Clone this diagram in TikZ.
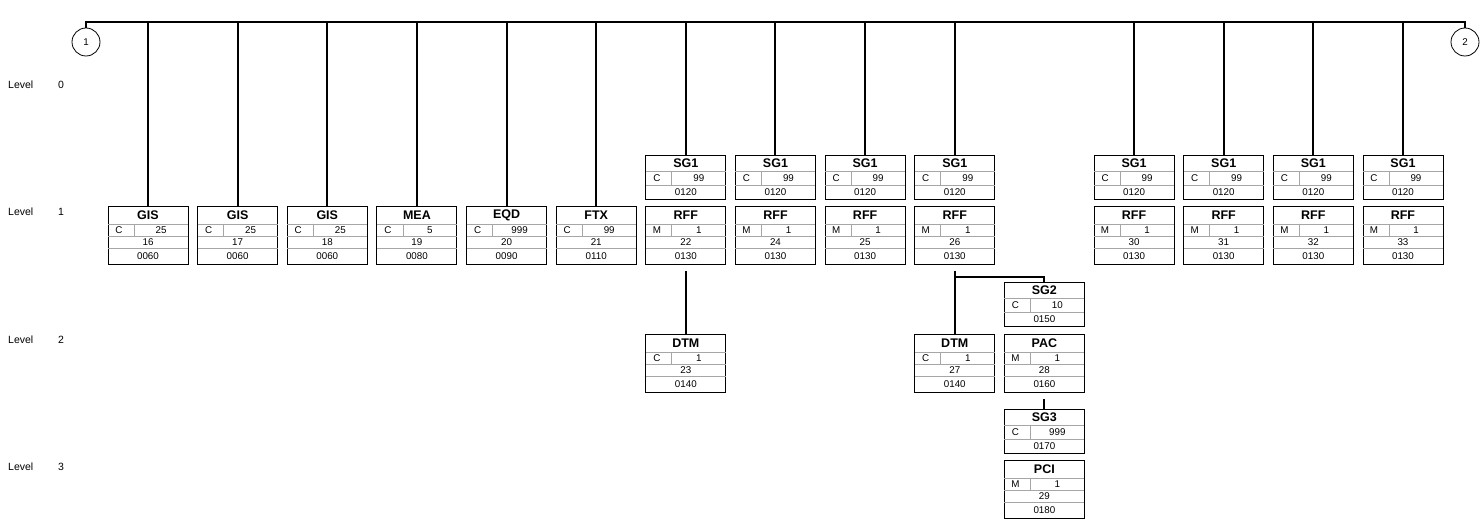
\documentclass[tikz,border=0pt]{standalone}
\usepackage{fontspec}
\setmainfont{Liberation Sans}
\usetikzlibrary{positioning}

% segment box: name, placement, tag, status, repeat, position, number
\newcommand{\segbox}[7]{%
  \node[segframe, #2] (#1) {};
  \draw[rowline] ([yshift=-18pt]#1.north west) -- ([yshift=-18pt]#1.north east);
  \draw[rowline] ([yshift=-30pt]#1.north west) -- ([yshift=-30pt]#1.north east);
  \draw[rowline] ([yshift=-42pt]#1.north west) -- ([yshift=-42pt]#1.north east);
  \draw[rowline] ([xshift=26pt,yshift=-18pt]#1.north west) -- ([xshift=26pt,yshift=-30pt]#1.north west);
  \node[tagtext] (#1-tag) at ([yshift=-9pt]#1.north) {#3};
  \node[celltext] (#1-st) at ([xshift=11pt,yshift=-24pt]#1.north west) {#4};
  \node[celltext] (#1-rep) at ([xshift=53pt,yshift=-24pt]#1.north west) {#5};
  \node[celltext] (#1-pos) at ([yshift=-36pt]#1.north) {#6};
  \node[celltext] (#1-num) at ([yshift=-50pt]#1.north) {#7};
}

% group box: name, placement, tag, status, repeat, number
\newcommand{\grpbox}[6]{%
  \node[grpframe, #2] (#1) {};
  \draw[rowline] ([yshift=-16pt]#1.north west) -- ([yshift=-16pt]#1.north east);
  \draw[rowline] ([yshift=-30pt]#1.north west) -- ([yshift=-30pt]#1.north east);
  \draw[rowline] ([xshift=26pt,yshift=-16pt]#1.north west) -- ([xshift=26pt,yshift=-30pt]#1.north west);
  \node[tagtext] (#1-tag) at ([yshift=-8.5pt]#1.north) {#3};
  \node[celltext] (#1-st) at ([xshift=11pt,yshift=-23pt]#1.north west) {#4};
  \node[celltext] (#1-rep) at ([xshift=53pt,yshift=-23pt]#1.north west) {#5};
  \node[celltext] (#1-num) at ([yshift=-37pt]#1.north) {#6};
}

\begin{document}
\begin{tikzpicture}[
    x=1pt, y=-1pt,
    segframe/.style={draw, line width=0.9pt, fill=white, inner sep=0pt, outer sep=0pt,
      minimum width=80pt, minimum height=58pt},
    grpframe/.style={draw, line width=0.9pt, fill=white, inner sep=0pt, outer sep=0pt,
      minimum width=80pt, minimum height=44pt},
    rowline/.style={draw=black!35, line width=0.7pt},
    link/.style={line width=2pt},
    tagtext/.style={font=\fontsize{12.5}{14}\selectfont\bfseries, inner sep=0pt},
    celltext/.style={font=\fontsize{9.8}{11}\selectfont, inner sep=0pt},
    lvltext/.style={font=\fontsize{10.5}{12}\selectfont, inner sep=0pt},
    endcircle/.style={draw, circle, line width=0.8pt, minimum size=28pt, inner sep=0pt,
      font=\fontsize{9.8}{11}\selectfont}
  ]
    \useasboundingbox (0,0) rectangle (1483,529);

    % level labels
    \foreach \l/\y in {0/85, 1/212, 2/340, 3/467} {
      \node[lvltext, anchor=west] (lvl\l) at (8,\y) {Level};
      \node[lvltext] (lvlnum\l) at (61,\y) {\l};
    }

    % bus and end circles
    \node[endcircle] (c1) at (86,42) {1};
    \node[endcircle] (c2) at (1465,42) {2};
    \coordinate (busL) at (86,22);
    \coordinate (busR) at (1465,22);
    \draw[link] (c1.north) -- (busL) -- (busR) -- (c2.north);

    % level 1
    \segbox{g16}{anchor=north, at={(148,206)}}{GIS}{C}{25}{16}{0060}
    \segbox{g17}{right=9.64pt of g16}{GIS}{C}{25}{17}{0060}
    \segbox{g18}{right=9.64pt of g17}{GIS}{C}{25}{18}{0060}
    \segbox{m19}{right=9.64pt of g18}{MEA}{C}{5}{19}{0080}
    \segbox{e20}{right=9.64pt of m19}{EQD}{C}{999}{20}{0090}
    \segbox{f21}{right=9.64pt of e20}{FTX}{C}{99}{21}{0110}
    \segbox{r22}{right=9.64pt of f21}{RFF}{M}{1}{22}{0130}
    \segbox{r24}{right=9.64pt of r22}{RFF}{M}{1}{24}{0130}
    \segbox{r25}{right=9.64pt of r24}{RFF}{M}{1}{25}{0130}
    \segbox{r26}{right=9.64pt of r25}{RFF}{M}{1}{26}{0130}
    \segbox{r30}{right=99.28pt of r26}{RFF}{M}{1}{30}{0130}
    \segbox{r31}{right=9.64pt of r30}{RFF}{M}{1}{31}{0130}
    \segbox{r32}{right=9.64pt of r31}{RFF}{M}{1}{32}{0130}
    \segbox{r33}{right=9.64pt of r32}{RFF}{M}{1}{33}{0130}

    % segment groups 1
    \grpbox{sgA}{above=7pt of r22}{SG1}{C}{99}{0120}
    \grpbox{sgB}{above=7pt of r24}{SG1}{C}{99}{0120}
    \grpbox{sgC}{above=7pt of r25}{SG1}{C}{99}{0120}
    \grpbox{sgD}{above=7pt of r26}{SG1}{C}{99}{0120}
    \grpbox{sgE}{above=7pt of r30}{SG1}{C}{99}{0120}
    \grpbox{sgF}{above=7pt of r31}{SG1}{C}{99}{0120}
    \grpbox{sgG}{above=7pt of r32}{SG1}{C}{99}{0120}
    \grpbox{sgH}{above=7pt of r33}{SG1}{C}{99}{0120}

    % level 2 and 3
    \segbox{d23}{below=70pt of r22}{DTM}{C}{1}{23}{0140}
    \segbox{d27}{below=70pt of r26}{DTM}{C}{1}{27}{0140}
    \segbox{p28}{right=9.64pt of d27}{PAC}{M}{1}{28}{0160}
    \grpbox{sg2}{above=8pt of p28}{SG2}{C}{10}{0150}
    \grpbox{sg3}{below=17pt of p28}{SG3}{C}{999}{0170}
    \segbox{p29}{below=7pt of sg3}{PCI}{M}{1}{29}{0180}

    % connectors from the bus
    \foreach \n in {g16,g17,g18,m19,e20,f21,sgA,sgB,sgC,sgD,sgE,sgF,sgG,sgH}
      \draw[link] (\n.north |- busL) -- (\n.north);

    \draw[link, shorten <=7pt] (r22.south) -- (d23.north);
    \draw[link, shorten <=7pt] (r26.south) -- (d27.north);
    \coordinate[below=13pt of r26.south] (split);
    \draw[link] (split) -| (sg2.north);
    \draw[link, shorten <=7pt] (p28.south) -- (sg3.north);
  \end{tikzpicture}
\end{document}
